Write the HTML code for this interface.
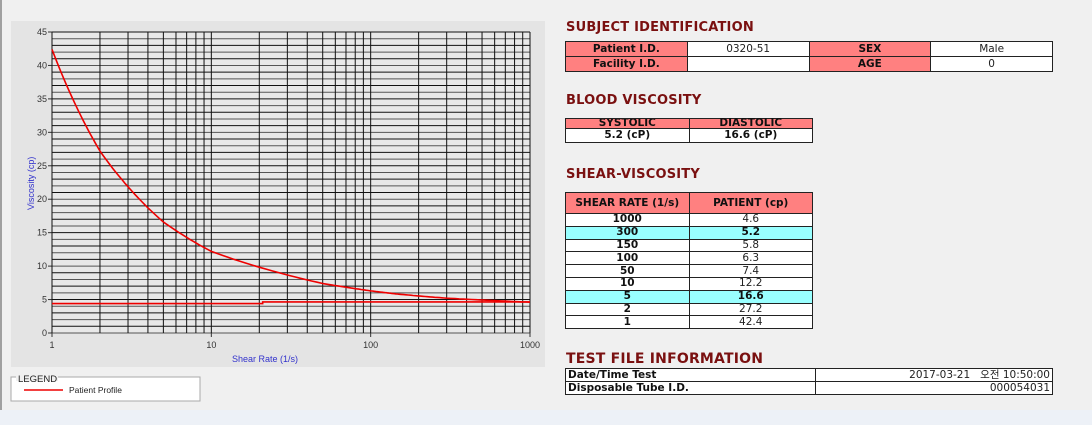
<!DOCTYPE html>
<html><head><meta charset="utf-8"><style>
*{margin:0;padding:0;box-sizing:border-box}
body{width:1092px;height:425px;background:#f0f0f0;position:relative;overflow:hidden;font-family:"DejaVu Sans","Liberation Sans","Noto Sans CJK KR",sans-serif}
.strip{position:absolute;left:0;top:410px;width:1092px;height:15px;background:#edf1f7}
.lb{position:absolute;left:0;top:0;width:2px;height:410px;background:#a0a0a0}
.h{position:absolute;left:566px;color:#7a1010;font-weight:bold;font-size:13px;letter-spacing:0.2px}
table{position:absolute;border-collapse:collapse;font-size:10.5px;table-layout:fixed}
td{border:1px solid #222;text-align:center;height:15px;padding:0;line-height:13px;background:#fff;color:#222}
td.p{background:#ff8080;font-weight:bold;color:#111}
td.b{font-weight:bold;color:#111}
tr.c td{background:#99ffff}
</style></head><body>
<div class="lb"></div>
<svg style="position:absolute;left:0;top:0" width="560" height="410" font-family="Liberation Sans,sans-serif" font-size="9">
<rect x="11" y="21" width="534" height="346" fill="#e4e4e4"/>
<rect x="52" y="32" width="478" height="301" fill="#e8e8e8"/>
<g id="g"></g>
<rect x="11" y="377" width="189" height="24" fill="#fff" stroke="#aaa"/>
<rect x="16" y="371" width="42" height="10" fill="#f0f0f0"/>
<text x="18" y="382" font-size="9.5" fill="#222">LEGEND</text>
<line x1="24" y1="390" x2="63" y2="390" stroke="#e00" stroke-width="1.5"/>
<text x="69" y="393" font-size="8.5" fill="#222">Patient Profile</text>
<text x="232" y="362" fill="#3333cc" font-size="9">Shear Rate (1/s)</text>
<text transform="translate(34,210) rotate(-90)" fill="#3333cc" font-size="9">Viscosity (cp)</text>
</svg>
<script>
var g=document.getElementById('g'),s='';
var L=52,R=530,T=32,B=333;
function X(v){return L+(R-L)*Math.log10(v)/3}
function Y(v){return B-(B-T)*v/45}
for(var i=0;i<=45;i++){var y=Y(i);s+='<line x1="'+L+'" x2="'+R+'" y1="'+y+'" y2="'+y+'" stroke="'+(i%2?'#111':'#555')+'" stroke-width="1"/>';
if(i%5==0)s+='<line x1="'+(L-4)+'" x2="'+L+'" y1="'+y+'" y2="'+y+'" stroke="#333"/><text x="'+(L-5)+'" y="'+(y+3)+'" text-anchor="end" fill="#333">'+i+'</text>';}
for(var d=1;d<=100;d*=10)for(var k=1;k<10;k++){var x=X(d*k);s+='<line y1="'+T+'" y2="'+B+'" x1="'+x+'" x2="'+x+'" stroke="#111"/>';}
s+='<line y1="'+T+'" y2="'+B+'" x1="'+R+'" x2="'+R+'" stroke="#111"/>';
[1,10,100,1000].forEach(function(v){s+='<text x="'+X(v)+'" y="'+(B+15)+'" text-anchor="middle" fill="#333">'+v+'</text><line x1="'+X(v)+'" x2="'+X(v)+'" y1="'+B+'" y2="'+(B+4)+'" stroke="#333"/>'});
var pts=[[1,42.4],[2,27.2],[5,16.6],[10,12.2],[50,7.4],[100,6.3],[150,5.8],[300,5.2],[1000,4.6]];
var p='';
for(var j=0;j<pts.length-1;j++){var a=pts[j],b=pts[j+1];for(var t=0;t<20;t++){var f=t/20,lv=Math.log(a[0])+(Math.log(b[0])-Math.log(a[0]))*f;
var la=Math.log(a[1]),lb=Math.log(b[1]);var v=Math.exp(la+(lb-la)*f);p+=(p?'L':'M')+X(Math.exp(lv)).toFixed(1)+' '+Y(v).toFixed(1);}}
p+='L'+X(1000)+' '+Y(4.6);
s+='<path d="'+p+'" fill="none" stroke="#e00" stroke-width="1.6"/>';
s+='<path d="M'+L+' '+Y(4.4)+'H'+X(21)+'V'+Y(4.65)+'H'+R+'" fill="none" stroke="#e00" stroke-width="1.6"/>';
g.innerHTML=s;
</script>
<div class="h" style="top:20px">SUBJECT IDENTIFICATION</div>
<table style="left:565px;top:41px;width:488px">
<tr><td class="p">Patient I.D.</td><td>0320-51</td><td class="p">SEX</td><td>Male</td></tr>
<tr><td class="p">Facility I.D.</td><td></td><td class="p">AGE</td><td>0</td></tr>
</table>
<div class="h" style="top:93px">BLOOD VISCOSITY</div>
<table style="left:565px;top:118px;width:248px">
<tr><td class="p" style="height:10px;line-height:9px;overflow:hidden">SYSTOLIC</td><td class="p" style="height:10px;line-height:9px">DIASTOLIC</td></tr>
<tr><td class="b" style="height:14px">5.2 (cP)</td><td class="b" style="height:14px">16.6 (cP)</td></tr>
</table>
<div class="h" style="top:167px">SHEAR-VISCOSITY</div>
<table style="left:565px;top:192px;width:248px">
<tr><td class="p" style="height:21px">SHEAR RATE (1/s)</td><td class="p" style="height:21px">PATIENT (cp)</td></tr>
<tr><td class="b" style="height:12.8px;line-height:11px">1000</td><td style="height:12.8px;line-height:11px">4.6</td></tr>
<tr class="c"><td class="b" style="height:12.8px;line-height:11px">300</td><td class="b" style="height:12.8px;line-height:11px">5.2</td></tr>
<tr><td class="b" style="height:12.8px;line-height:11px">150</td><td style="height:12.8px;line-height:11px">5.8</td></tr>
<tr><td class="b" style="height:12.8px;line-height:11px">100</td><td style="height:12.8px;line-height:11px">6.3</td></tr>
<tr><td class="b" style="height:12.8px;line-height:11px">50</td><td style="height:12.8px;line-height:11px">7.4</td></tr>
<tr><td class="b" style="height:12.8px;line-height:11px">10</td><td style="height:12.8px;line-height:11px">12.2</td></tr>
<tr class="c"><td class="b" style="height:12.8px;line-height:11px">5</td><td class="b" style="height:12.8px;line-height:11px">16.6</td></tr>
<tr><td class="b" style="height:12.8px;line-height:11px">2</td><td style="height:12.8px;line-height:11px">27.2</td></tr>
<tr><td class="b" style="height:12.8px;line-height:11px">1</td><td style="height:12.8px;line-height:11px">42.4</td></tr>
</table>
<div class="h" style="top:351px;font-size:14px">TEST FILE INFORMATION</div>
<table style="left:565px;top:368px;width:488px">
<tr><td class="b" style="text-align:left;width:250px;height:13px;line-height:11px;padding-left:2px">Date/Time Test</td><td style="text-align:right;height:13px;line-height:11px;padding-right:2px">2017-03-21&nbsp;&nbsp;&nbsp;오전 10:50:00</td></tr>
<tr><td class="b" style="text-align:left;height:13px;line-height:11px;padding-left:2px">Disposable Tube I.D.</td><td style="text-align:right;height:13px;line-height:11px;padding-right:2px">000054031</td></tr>
</table>
<div class="strip"></div>
</body></html>
